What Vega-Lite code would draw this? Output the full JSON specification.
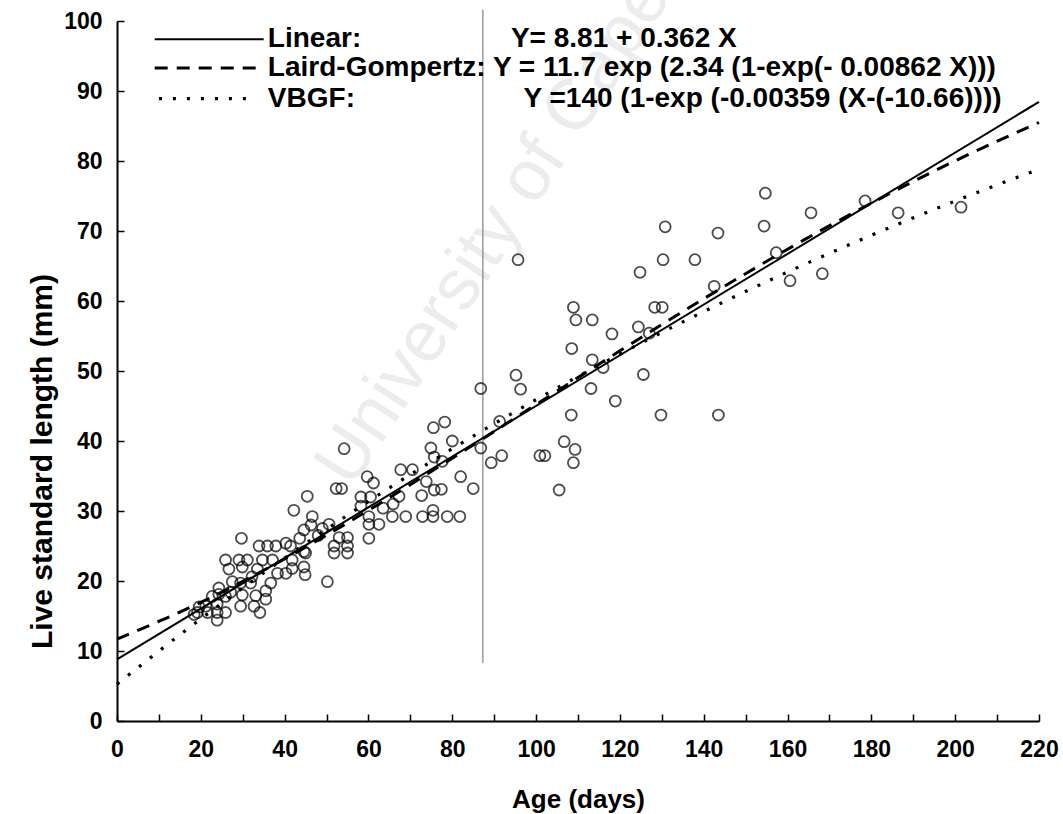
{
  "$schema": "https://vega.github.io/schema/vega-lite/v6.json",
  "width": 922,
  "height": 700,
  "autosize": {"type": "none"},
  "padding": {"left": 117, "top": 21, "right": 24, "bottom": 93},
  "background": "white",
  "config": {"view": {"stroke": null}, "font": "Liberation Sans"},
  "datasets": {
    "pts": [
      {"x":19.2,"y":15.5},{"x":18.4,"y":15.2},{"x":19.6,"y":16.3},{"x":21.2,"y":16.4},{"x":21.6,"y":15.5},
      {"x":22.7,"y":17.8},{"x":23.9,"y":14.4},{"x":23.9,"y":15.5},{"x":23.9,"y":16.7},{"x":24.3,"y":18.1},
      {"x":24.3,"y":19.0},{"x":25.9,"y":15.5},{"x":25.9,"y":17.8},{"x":25.9,"y":23.0},{"x":26.7,"y":21.7},
      {"x":27.1,"y":18.4},{"x":27.5,"y":19.9},{"x":29.1,"y":23.0},{"x":29.5,"y":16.4},{"x":29.5,"y":19.7},
      {"x":29.7,"y":26.1},{"x":29.9,"y":22.0},{"x":29.9,"y":18.0},{"x":31.1,"y":23.0},{"x":31.9,"y":19.7},
      {"x":32.2,"y":20.6},{"x":32.7,"y":16.4},{"x":33.1,"y":17.9},{"x":33.5,"y":21.7},{"x":33.9,"y":25.0},
      {"x":34.1,"y":15.5},{"x":34.7,"y":23.0},{"x":35.5,"y":17.4},{"x":35.5,"y":18.6},{"x":35.9,"y":25.0},
      {"x":36.7,"y":19.7},{"x":37.1,"y":23.0},{"x":37.9,"y":25.0},{"x":38.3,"y":21.1},{"x":40.3,"y":21.1},
      {"x":40.3,"y":25.4},{"x":41.4,"y":25.0},{"x":41.8,"y":23.0},{"x":41.8,"y":21.8},{"x":42.2,"y":30.1},
      {"x":43.6,"y":26.1},{"x":44.6,"y":24.2},{"x":44.6,"y":22.0},{"x":44.9,"y":20.9},{"x":45.0,"y":24.0},
      {"x":44.6,"y":27.3},{"x":45.4,"y":32.1},{"x":46.3,"y":28.0},{"x":46.6,"y":29.2},{"x":48.0,"y":26.5},
      {"x":49.0,"y":27.5},{"x":50.2,"y":19.9},{"x":50.6,"y":28.1},{"x":51.8,"y":25.0},{"x":51.8,"y":24.0},
      {"x":53.0,"y":26.2},{"x":55.0,"y":26.2},{"x":55.0,"y":25.0},{"x":55.0,"y":24.0},{"x":52.3,"y":33.2},
      {"x":53.6,"y":33.2},{"x":54.2,"y":38.9},{"x":58.2,"y":32.0},{"x":58.2,"y":30.7},{"x":59.7,"y":34.9},
      {"x":60.1,"y":29.2},{"x":60.1,"y":28.1},{"x":60.1,"y":26.1},{"x":60.5,"y":32.0},{"x":61.2,"y":34.0},
      {"x":62.5,"y":28.1},{"x":63.5,"y":30.4},{"x":65.7,"y":29.2},{"x":65.9,"y":31.0},{"x":67.3,"y":32.1},
      {"x":67.7,"y":35.9},{"x":68.9,"y":29.2},{"x":70.5,"y":35.9},{"x":72.7,"y":32.2},{"x":72.9,"y":29.2},
      {"x":73.8,"y":34.2},{"x":75.4,"y":30.1},{"x":75.4,"y":29.2},{"x":75.7,"y":33.0},{"x":77.4,"y":33.1},
      {"x":78.8,"y":29.2},{"x":81.8,"y":29.2},{"x":75.5,"y":41.9},{"x":78.2,"y":42.7},{"x":80.0,"y":40.0},
      {"x":74.9,"y":39.0},{"x":75.7,"y":37.7},{"x":77.6,"y":37.1},{"x":82.0,"y":34.9},{"x":85.0,"y":33.2},
      {"x":86.8,"y":39.0},{"x":86.8,"y":47.5},{"x":89.3,"y":36.9},{"x":91.3,"y":42.8},{"x":91.8,"y":37.9},
      {"x":95.2,"y":49.4},{"x":96.3,"y":47.4},{"x":95.7,"y":65.9},{"x":100.9,"y":37.9},{"x":102.1,"y":37.9},
      {"x":105.5,"y":33.0},{"x":106.7,"y":39.9},{"x":108.4,"y":43.7},{"x":108.5,"y":53.2},{"x":108.9,"y":59.1},
      {"x":109.5,"y":57.3},{"x":109.3,"y":38.8},{"x":108.9,"y":36.9},{"x":113.1,"y":47.5},{"x":113.4,"y":57.3},
      {"x":113.4,"y":51.6},{"x":116.0,"y":50.5},{"x":118.1,"y":55.3},{"x":118.9,"y":45.7},{"x":124.4,"y":56.3},
      {"x":124.8,"y":64.1},{"x":125.6,"y":49.5},{"x":127.0,"y":55.4},{"x":128.3,"y":59.1},{"x":129.8,"y":43.7},
      {"x":130.1,"y":59.1},{"x":130.3,"y":65.9},{"x":130.8,"y":70.6},{"x":137.9,"y":65.9},{"x":142.5,"y":62.1},
      {"x":143.4,"y":69.7},{"x":143.5,"y":43.7},{"x":154.4,"y":70.7},{"x":154.7,"y":75.4},{"x":157.3,"y":66.9},
      {"x":160.6,"y":62.9},{"x":165.6,"y":72.6},{"x":168.3,"y":63.9},{"x":178.5,"y":74.3},{"x":186.4,"y":72.6},
      {"x":201.4,"y":73.4}
    ],
    "linear": [{"x":0,"y":8.81},{"x":220,"y":88.45}],
    "gompertz": [
      {"x":0,"y":11.7},{"x":20,"y":16.95},{"x":40,"y":23.15},{"x":60,"y":30.1},{"x":80,"y":37.54},
      {"x":100,"y":45.21},{"x":120,"y":52.88},{"x":140,"y":60.32},{"x":160,"y":67.39},{"x":180,"y":73.98},
      {"x":200,"y":80.02},{"x":220,"y":85.5}
    ],
    "vbgf": [
      {"x":0,"y":5.26},{"x":20,"y":14.59},{"x":40,"y":23.28},{"x":60,"y":31.37},{"x":80,"y":38.9},
      {"x":100,"y":45.9},{"x":120,"y":52.42},{"x":140,"y":58.49},{"x":160,"y":64.14},{"x":180,"y":69.39},
      {"x":200,"y":74.28},{"x":220,"y":78.83}
    ]
  },
  "encoding": {
    "x": {"field": "x", "type": "quantitative", "scale": {"domain": [0, 220], "nice": false},
      "axis": {"title": "Age (days)", "values": [0,10,20,30,40,50,60,70,80,90,100,110,120,130,140,150,160,170,180,190,200,210,220],
        "labelExpr": "datum.value % 20 === 0 ? datum.label : ''", "grid": false,
        "tickSize": -7, "tickWidth": 1.5, "tickColor": "black", "domainColor": "black", "domainWidth": 2,
        "labelFont": "Liberation Sans", "labelFontWeight": "bold", "labelFontSize": 23, "labelColor": "black",
        "labelPadding": 24, "labelFlush": false,
        "titleFont": "Liberation Sans", "titleFontWeight": "bold", "titleFontSize": 26, "titleColor": "black", "titlePadding": 25}},
    "y": {"field": "y", "type": "quantitative", "scale": {"domain": [0, 100], "nice": false},
      "axis": {"title": "Live standard length (mm)", "values": [0,10,20,30,40,50,60,70,80,90,100], "grid": false,
        "tickSize": -7, "tickWidth": 1.5, "tickColor": "black", "domainColor": "black", "domainWidth": 2,
        "labelFont": "Liberation Sans", "labelFontWeight": "bold", "labelFontSize": 23, "labelColor": "black",
        "labelPadding": 22, "labelFlush": false,
        "titleFont": "Liberation Sans", "titleFontWeight": "bold", "titleFontSize": 30, "titleColor": "black", "titlePadding": 6,
        "titleY": 440}}
  },
  "layer": [
    {
      "data": {"values": [{"x": 102, "y": 81.2, "t": "University of Cape Town"}]},
      "mark": {"type": "text", "angle": -57, "fontSize": 72, "color": "#ececec", "font": "Liberation Sans", "align": "center", "baseline": "middle"},
      "encoding": {"text": {"field": "t"}}
    },
    {
      "data": {"values": [{"x": 87.3, "y": 8.3, "y2": 101.6}]},
      "mark": {"type": "rule", "color": "#808080", "strokeWidth": 1.2},
      "encoding": {"y2": {"field": "y2"}}
    },
    {
      "data": {"name": "linear"},
      "mark": {"type": "line", "color": "black", "strokeWidth": 2}
    },
    {
      "data": {"name": "gompertz"},
      "mark": {"type": "line", "color": "black", "strokeWidth": 3, "strokeDash": [13, 9], "interpolate": "monotone"}
    },
    {
      "data": {"name": "vbgf"},
      "mark": {"type": "line", "color": "black", "strokeWidth": 3.2, "strokeDash": [3, 11], "interpolate": "monotone"}
    },
    {
      "data": {"name": "pts"},
      "mark": {"type": "point", "shape": "circle", "filled": false, "size": 120, "stroke": "black", "strokeWidth": 1.8}
    },
    {
      "data": {"values": [{"x": 9, "x2": 35, "y": 97.4}]},
      "mark": {"type": "rule", "color": "black", "strokeWidth": 2},
      "encoding": {"x2": {"field": "x2"}}
    },
    {
      "data": {"values": [{"x": 9, "x2": 35, "y": 93.3}]},
      "mark": {"type": "rule", "color": "black", "strokeWidth": 3, "strokeDash": [13, 9]},
      "encoding": {"x2": {"field": "x2"}}
    },
    {
      "data": {"values": [{"x": 10, "x2": 33, "y": 88.9}]},
      "mark": {"type": "rule", "color": "black", "strokeWidth": 3.2, "strokeDash": [3, 11]},
      "encoding": {"x2": {"field": "x2"}}
    },
    {
      "data": {"values": [
        {"x": 36, "y": 97.4, "t": "Linear:"},
        {"x": 94, "y": 97.4, "t": "Y= 8.81 + 0.362 X"},
        {"x": 36, "y": 93.3, "t": "Laird-Gompertz: Y = 11.7 exp (2.34 (1-exp(- 0.00862 X)))"},
        {"x": 36, "y": 88.9, "t": "VBGF:"},
        {"x": 97, "y": 88.9, "t": "Y =140 (1-exp (-0.00359 (X-(-10.66))))"}
      ]},
      "mark": {"type": "text", "align": "left", "baseline": "middle", "font": "Liberation Sans", "fontWeight": "bold", "fontSize": 28, "color": "black"},
      "encoding": {"text": {"field": "t"}}
    }
  ]
}
